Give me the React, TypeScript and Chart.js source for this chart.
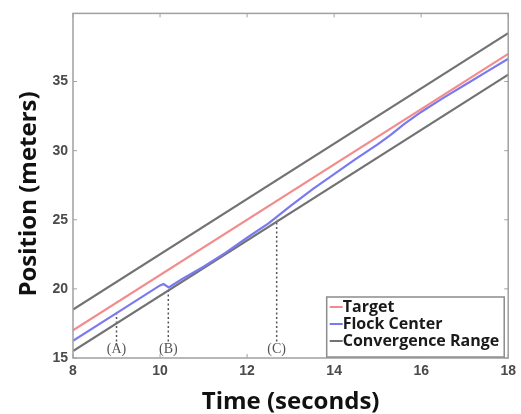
import React, { useEffect, useRef } from "react";
import { Chart, registerables } from "chart.js";

Chart.register(...registerables);

// ---- data ----
const xTickValues = [8, 10, 12, 14, 16, 18];
const yTickValues = [15, 20, 25, 30, 35];
const lineTimes = [8, 18];
const targetValues = [17, 37];
const upperValues = [18.5, 38.5];
const lowerValues = [15.5, 35.5];
const flockTimes = [8, 9, 10, 10.08, 10.2, 10.5, 11, 11.5, 12, 12.5, 13, 13.5, 14, 14.5, 15, 15.3, 15.6, 16, 16.5, 17, 17.5, 18];
const flockValues = [16.25, 18.25, 20.25, 20.35, 20.1, 20.7, 21.6, 22.6, 23.7, 24.75, 26.0, 27.2, 28.3, 29.4, 30.45, 31.15, 31.9, 32.8, 33.8, 34.75, 35.7, 36.65];
const markerLabels = ["(A)", "(B)", "(C)"];
const markerTimes = [9.0, 10.19, 12.68];
const markerTops = [18.25, 20.1, 25.0];
const markerBottom = 16.2;
const markerLabelValue = 15.64;
const legendLabels = ["Target", "Flock Center", "Convergence Range"];

const pts = (xs: number[], ys: number[]) => xs.map((x, i) => ({ x, y: ys[i] }));

const overlayPlugin = {
  id: "overlay",
  afterDatasetsDraw(chart: any) {
    const { ctx, chartArea: a, scales } = chart;
    const sx = scales.x;
    const sy = scales.y;
    ctx.save();
    // frame
    ctx.strokeStyle = "#a0a0a0";
    ctx.lineWidth = 1.5;
    ctx.strokeRect(a.left, a.top, a.right - a.left, a.bottom - a.top);
    // inward ticks
    ctx.lineWidth = 1;
    ctx.beginPath();
    xTickValues.forEach((v) => {
      const px = sx.getPixelForValue(v);
      ctx.moveTo(px, a.bottom);
      ctx.lineTo(px, a.bottom - 4);
      ctx.moveTo(px, a.top);
      ctx.lineTo(px, a.top + 4);
    });
    yTickValues.forEach((v) => {
      const py = sy.getPixelForValue(v);
      ctx.moveTo(a.left, py);
      ctx.lineTo(a.left + 4, py);
      ctx.moveTo(a.right, py);
      ctx.lineTo(a.right - 4, py);
    });
    ctx.stroke();

    // marker labels
    ctx.fillStyle = "#555555";
    ctx.font = '14px "Liberation Serif"';
    ctx.textAlign = "center";
    ctx.textBaseline = "middle";
    markerTimes.forEach((t, i) => {
      ctx.fillText(markerLabels[i], sx.getPixelForValue(t), sy.getPixelForValue(markerLabelValue));
    });

    // legend
    ctx.font = 'bold 16px "Open Sans"';
    const items = chart.data.datasets.filter((d: any) => legendLabels.includes(d.label));
    let maxW = 0;
    items.forEach((d: any) => (maxW = Math.max(maxW, ctx.measureText(d.label).width)));
    const boxW = maxW + 21;
    const boxH = 60;
    const bx = a.right - 4 - boxW;
    const by = a.bottom - 1 - boxH;
    ctx.fillStyle = "#ffffff";
    ctx.fillRect(bx, by, boxW, boxH);
    ctx.strokeStyle = "#8c8c8c";
    ctx.lineWidth = 1.5;
    ctx.strokeRect(bx, by, boxW, boxH);
    ctx.textAlign = "left";
    items.forEach((d: any, i: number) => {
      const cy = by + 10 + i * 17;
      ctx.strokeStyle = d.borderColor;
      ctx.lineWidth = 2;
      ctx.beginPath();
      ctx.moveTo(bx + 3, cy);
      ctx.lineTo(bx + 16, cy);
      ctx.stroke();
      ctx.fillStyle = "#1a1a1a";
      ctx.fillText(d.label, bx + 16, cy);
    });

    // y axis title
    ctx.save();
    ctx.translate(29, 194);
    ctx.rotate(-Math.PI / 2);
    ctx.font = 'bold 24px "Open Sans"';
    ctx.fillStyle = "#111111";
    ctx.textAlign = "center";
    ctx.textBaseline = "middle";
    ctx.fillText("Position (meters)", 0, 0);
    ctx.restore();

    ctx.restore();
  },
};

export default function App() {
  const ref = useRef<HTMLCanvasElement | null>(null);

  useEffect(() => {
    if (!ref.current) return;
    const gray = "#727272";
    const datasets: any[] = [
      { label: "Target", data: pts(lineTimes, targetValues), borderColor: "#f28c8c", borderWidth: 2.2 },
      { label: "Flock Center", data: pts(flockTimes, flockValues), borderColor: "#7a7af0", borderWidth: 2.2 },
      { label: "Convergence Range", data: pts(lineTimes, upperValues), borderColor: gray, borderWidth: 2.2 },
      { label: "Convergence Lower", data: pts(lineTimes, lowerValues), borderColor: gray, borderWidth: 2.2 },
    ];
    markerTimes.forEach((t, i) => {
      datasets.push({
        label: "Marker " + markerLabels[i],
        data: [
          { x: t, y: markerBottom },
          { x: t, y: markerTops[i] },
        ],
        borderColor: "#555555",
        borderWidth: 1.5,
        borderDash: [2, 2.5],
      });
    });
    datasets.forEach((d) => {
      d.pointRadius = 0;
      d.fill = false;
      d.tension = 0;
    });

    const chart = new Chart(ref.current, {
      type: "line",
      data: { datasets },
      options: {
        animation: false,
        responsive: true,
        maintainAspectRatio: false,
        layout: { padding: { left: 0, top: 9, right: 11, bottom: 0 } },
        plugins: { legend: { display: false }, tooltip: { enabled: false } },
        scales: {
          x: {
            type: "linear",
            min: 8,
            max: 18,
            afterBuildTicks: (s: any) => {
              s.ticks = xTickValues.map((v) => ({ value: v }));
            },
            afterFit: (s: any) => {
              s.height = 56;
            },
            grid: { display: false, drawTicks: false },
            border: { display: false },
            ticks: {
              padding: 5,
              color: "#4a4a4a",
              font: { family: '"Liberation Sans"', size: 14, weight: "bold" },
              maxRotation: 0,
            },
            title: {
              display: true,
              text: "Time (seconds)",
              color: "#111111",
              font: { family: '"Open Sans"', size: 24, weight: "bold", lineHeight: 1.0 },
              padding: { top: 2, bottom: 0 },
            },
          },
          y: {
            type: "linear",
            min: 15,
            max: 39.93,
            afterBuildTicks: (s: any) => {
              s.ticks = yTickValues.map((v) => ({ value: v }));
            },
            afterFit: (s: any) => {
              s.width = 73;
            },
            grid: { display: false, drawTicks: false },
            border: { display: false },
            ticks: {
              padding: 5,
              color: "#4a4a4a",
              font: { family: '"Liberation Sans"', size: 14, weight: "bold" },
            },
          },
        },
      },
      plugins: [overlayPlugin],
    } as any);
    return () => chart.destroy();
  }, []);

  return (
    <div style={{ position: "absolute", left: 0, top: 0, width: 521, height: 414, background: "#fff" }}>
      <canvas ref={ref} />
    </div>
  );
}
